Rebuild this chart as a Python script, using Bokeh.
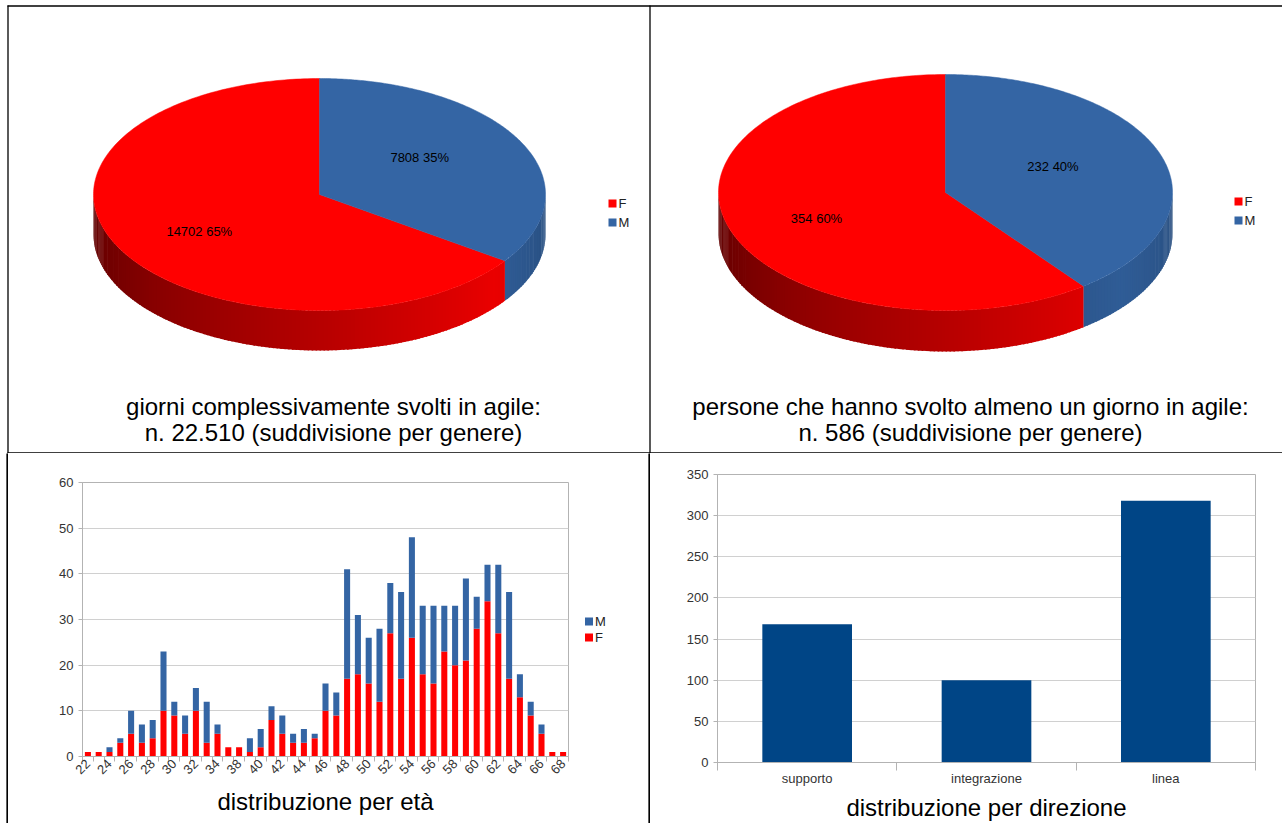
import math
import numpy as np
from bokeh.plotting import figure
from bokeh.models import Range1d, FixedTicker, Spacer, ColumnDataSource
from bokeh.layouts import column, row
from bokeh.embed import file_html
from bokeh.resources import INLINE
from bokeh.core.properties import value

# ---------------- data ----------------
genders = ["F", "M"]
days_by_gender = [14702, 7808]
people_by_gender = [354, 232]

ages = [22, 23, 24, 25, 26, 27, 28, 29, 30, 31, 32, 33, 34, 36, 38, 39, 40, 41, 42,
        43, 44, 45, 46, 47, 48, 49, 50, 51, 52, 53, 54, 55, 56, 57, 58, 59, 60, 61,
        62, 63, 64, 65, 66, 67, 68]
age_F = [1, 1, 1, 3, 5, 3, 4, 10, 9, 5, 10, 3, 5, 2, 2, 1, 2, 8, 5,
         3, 3, 4, 10, 9, 17, 18, 16, 12, 27, 17, 26, 18, 16, 23, 20, 21, 28, 34,
         27, 17, 13, 9, 5, 1, 1]
age_M = [0, 0, 1, 1, 5, 4, 4, 13, 3, 4, 5, 9, 2, 0, 0, 3, 4, 3, 4,
         2, 3, 1, 6, 5, 24, 13, 10, 16, 11, 19, 22, 15, 17, 10, 13, 18, 7, 8,
         15, 19, 5, 3, 2, 0, 0]

directions = ["supporto", "integrazione", "linea"]
direction_counts = [168, 100, 318]

RED = "#ff0000"
BLUE = "#3465a4"
NAVY = "#004586"
FONT = "Liberation Sans"
GRID = "#d0d0d0"
AXIS = "#b3b3b3"


def it_num(n):
    return f"{n:,}".replace(",", ".")


def canvas(w, h):
    f = figure(width=w, height=h, x_range=Range1d(0, w), y_range=Range1d(h, 0),
               toolbar_location=None, output_backend="svg", min_border=0, title=None,
               x_axis_location=None, y_axis_location=None, outline_line_color=None)
    f.grid.visible = False
    return f


# ---------------- top canvas (pies) ----------------
W, HT = 1282, 453
top = canvas(W, HT)


def hex_rgb(h):
    h = h.lstrip("#")
    return tuple(int(h[i:i + 2], 16) for i in (0, 2, 4))


def shade(col, t):
    r, g, b = hex_rgb(col)
    u = (t - 180.0) / 180.0
    f = 0.36 + 0.56 * min(u / 0.78, 1.0) - 0.15 * max(0.0, (u - 0.78) / 0.22)
    return "#%02x%02x%02x" % (int(r * f), int(g * f), int(b * f))


def legend_marks(p, gx, gy0, labels, colors):
    gy = [gy0 + 16 * i for i in range(len(labels))]
    p.rect([gx] * len(labels), gy, width=8, height=8, fill_color=colors, line_color=None)
    p.text([gx + 6] * len(labels), gy, text=labels, text_align="left", text_baseline="middle",
           text_font=value(FONT), text_font_size="13px", text_color="#222222")


def pie3d(p, cx, cy, rx, ry, depth, vals, colors, labels):
    total = float(sum(vals))
    start = 90.0
    spans = []
    for v in vals:
        s = 360.0 * v / total
        spans.append((start, start + s))
        start += s
    # side strips
    sx, sy, sc = [], [], []
    step = 1.0
    for (a0, a1), col in zip(spans, colors):
        for k in (-360.0, 0.0, 360.0):
            lo = max(a0, 180.0 + k)
            hi = min(a1, 360.0 + k)
            t = lo
            while t < hi - 1e-9:
                t2 = min(t + step, hi)
                r0, r1 = math.radians(t), math.radians(min(t2 + 0.4, hi))
                x0, x1 = cx + rx * math.cos(r0), cx + rx * math.cos(r1)
                y0, y1 = cy - ry * math.sin(r0), cy - ry * math.sin(r1)
                sx.append([x0, x1, x1, x0])
                sy.append([y0, y1, y1 + depth, y0 + depth])
                sc.append(shade(col, ((t + t2) / 2.0 - k)))
                t = t2
    p.patches(sx, sy, fill_color=sc, line_color=None)
    # top faces
    tx, ty = [], []
    for (a0, a1) in spans:
        tt = np.radians(np.linspace(a0, a1, 240))
        tx.append([cx] + list(cx + rx * np.cos(tt)))
        ty.append([cy] + list(cy - ry * np.sin(tt)))
    p.patches(tx, ty, fill_color=colors, line_color=colors, line_width=0.5)
    # value labels
    lx, ly, lt = [], [], []
    for (a0, a1), v in zip(spans, vals):
        share = v / total
        m = math.radians((a0 + a1) / 2.0)
        fx = 0.5 if share < 0.5 else 0.6
        lx.append(cx + fx * rx * math.cos(m))
        ly.append(cy - 0.68 * ry * math.sin(m))
        lt.append(f"{v} {round(100.0 * share)}%")
    p.text(lx, ly, text=lt, text_align="center", text_baseline="middle",
           text_font=value(FONT), text_font_size="13px", text_color="black")
    # legend (F, M)
    gx = cx + 293
    gy = [cy + 9 + 19 * i for i in range(len(labels))]
    p.rect([gx] * len(labels), gy, width=8, height=8, fill_color=colors, line_color=None)
    p.text([gx + 6] * len(labels), gy, text=labels, text_align="left", text_baseline="middle",
           text_font=value(FONT), text_font_size="13px", text_color="#222222")


pie3d(top, 319, 194, 226, 116, 40, days_by_gender, [RED, BLUE], genders)
pie3d(top, 945, 192, 227, 118, 41, people_by_gender, [RED, BLUE], genders)

titles = [
    (333, ["giorni complessivamente svolti in agile:",
           f"n. {it_num(sum(days_by_gender))} (suddivisione per genere)"]),
    (970, ["persone che hanno svolto almeno un giorno in agile:",
           f"n. {it_num(sum(people_by_gender))} (suddivisione per genere)"]),
]
for tx, lines in titles:
    top.text([tx, tx], [406, 432], text=lines, text_align="center", text_baseline="middle",
             text_font=value(FONT), text_font_size="24px", text_color="black")

# borders
top.segment(x0=[7, 7, 7.5, 649.5], y0=[5.5, 452.5, 5, 5],
            x1=[W, W, 7.5, 649.5], y1=[5.5, 452.5, HT, HT],
            line_color="black", line_width=1.3)

HB = 370


def vline(h):
    f = figure(width=2, height=h, toolbar_location=None, output_backend="svg", min_border=0,
               x_axis_location=None, y_axis_location=None, background_fill_color="black",
               border_fill_color="black", outline_line_color=None, title=None,
               x_range=Range1d(0, 1), y_range=Range1d(0, 1))
    f.grid.visible = False
    f.quad(left=[0], right=[1], bottom=[0], top=[1], fill_color="black", line_color=None)
    return f


def style_axes(p):
    for ax in (p.xaxis, p.yaxis):
        ax.axis_line_color = AXIS
        ax.major_tick_line_color = AXIS
        ax.minor_tick_line_color = AXIS
        ax.major_label_text_font = FONT
        ax.major_label_text_font_size = "13px"
        ax.major_label_text_color = "#333333"
        ax.axis_label_text_font = FONT
        ax.axis_label_text_font_style = "normal"
        ax.axis_label_text_font_size = "24px"
        ax.axis_label_text_color = "black"
    p.xgrid.visible = False
    p.ygrid.grid_line_color = GRID
    p.outline_line_color = AXIS
    p.yaxis.major_tick_in = 0
    p.yaxis.major_tick_out = 4
    p.yaxis.minor_tick_line_color = None
    p.xaxis.major_tick_line_color = None
    p.xaxis.major_tick_in = 0
    p.xaxis.major_tick_out = 0
    p.xaxis.minor_tick_in = 0


# ---------------- age distribution ----------------
n = len(ages)
src = ColumnDataSource(dict(x=list(range(n)), F=age_F, M=age_M))
p1 = figure(width=561, height=HB, x_range=Range1d(-0.5, n - 0.5), y_range=Range1d(0, 60),
            toolbar_location=None, output_backend="svg", title=None,
            min_border_left=74, min_border_right=1, min_border_top=29, min_border_bottom=67)
rs = p1.vbar_stack(["F", "M"], x="x", width=0.56, color=[RED, BLUE], line_color=None, source=src)
style_axes(p1)
p1.xaxis.ticker = FixedTicker(ticks=list(range(0, n, 2)),
                              minor_ticks=[i - 0.5 for i in range(n + 1)])
p1.xaxis.major_label_overrides = {i: str(a) for i, a in enumerate(ages)}
p1.xaxis.major_label_orientation = math.pi / 4
p1.xaxis.minor_tick_out = 5
p1.xaxis.major_label_standoff = 0
p1.xaxis.axis_label = "distribuzione per età"
p1.xaxis.axis_label_standoff = 7
p1.yaxis.ticker = FixedTicker(ticks=list(range(0, 61, 10)))

# legend of the age chart (M above F), in its own strip right of the plot area
leg = canvas(79, HB)
legend_marks(leg, 19.5, 168, ["M", "F"], [BLUE, RED])

# ---------------- direction distribution ----------------
src2 = ColumnDataSource(dict(x=list(range(1, len(directions) + 1)), v=direction_counts))
p2 = figure(width=632, height=HB, x_range=Range1d(0.5, len(directions) + 0.5),
            y_range=Range1d(0, 350), toolbar_location=None, output_backend="svg", title=None,
            min_border_left=67, min_border_right=27, min_border_top=21, min_border_bottom=61)
p2.vbar(x="x", top="v", width=0.5, color=NAVY, line_color=None, source=src2)
style_axes(p2)
p2.xaxis.ticker = FixedTicker(ticks=list(range(1, len(directions) + 1)),
                              minor_ticks=[i + 0.5 for i in range(len(directions) + 1)])
p2.xaxis.major_label_overrides = {i + 1: d for i, d in enumerate(directions)}
p2.xaxis.minor_tick_out = 8
p2.xaxis.major_label_standoff = 0
p2.xaxis.axis_label = "distribuzione per direzione"
p2.xaxis.axis_label_standoff = 5
p2.yaxis.ticker = FixedTicker(ticks=list(range(0, 351, 50)))

bottom = row(Spacer(width=6, height=HB), vline(HB), column(p1), column(leg), vline(HB), column(p2))
layout = column(top, bottom)

open("out.html", "w").write(file_html(layout, INLINE))
